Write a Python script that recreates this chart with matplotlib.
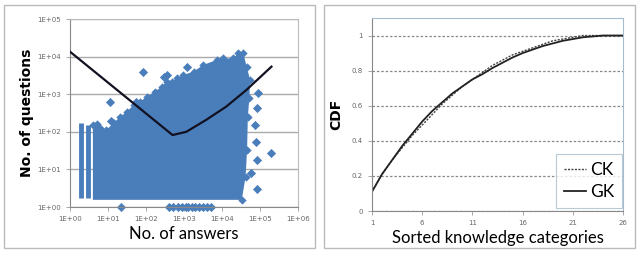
import math
import matplotlib
matplotlib.use('Agg')
import matplotlib.pyplot as plt
from matplotlib.patches import Rectangle
from matplotlib.ticker import FuncFormatter

plt.rcParams['font.family'] = ['DejaVu Sans']
narrow = ['Lato', 'DejaVu Sans']

# --- left panel: answers vs questions (log-log) ---
# outline of the dense cloud (answers, questions)
cloud_x = [4, 5, 6.2, 9, 14, 21, 31, 47, 69, 105, 174, 257, 347, 479, 646, 955, 1780, 3240,
           7240, 10700, 20000, 26900, 36300, 44700, 55000, 52500, 47900, 45700, 41700, 33100, 4]
cloud_y = [151, 158, 123, 112, 170, 251, 339, 513, 631, 851, 1175, 1585, 2138, 2138, 2630,
           3236, 3981, 6026, 8128, 8913, 8913, 12300, 12300, 5370, 2400, 794, 251, 32, 6.3,
           1.55, 1.55]
strip_x = [2, 3]
strip_top = [170, 150]
strip_bottom = [1.7, 1.7]
# outliers
out_x = [11, 12, 22, 85, 295, 347, 1230, 56, 93, 91000, 85000, 74000, 78000, 190000, 81000,
         58000, 81000, 400, 500, 700, 900, 1100, 1300, 1600, 2000, 2500, 3200, 4000, 5000]
out_y = [630, 195, 1, 3800, 2950, 3240, 5370, 631, 631, 1100, 420, 150, 55, 27, 18, 8, 3,
         1, 1, 1, 1, 1, 1, 1, 1, 1, 1, 1, 1]
# fitted trend
fit_x = [1, 500, 1150, 3900, 13000, 44000, 200000]
fit_y = [13500, 82, 100, 210, 470, 1300, 5400]

# --- right panel: CDF of sorted knowledge categories ---
cats = list(range(1, 27))
ck = [0.11, 0.21, 0.29, 0.36, 0.43, 0.49, 0.55, 0.61, 0.66, 0.71, 0.75, 0.79, 0.83, 0.86,
      0.89, 0.91, 0.93, 0.95, 0.97, 0.98, 0.99, 1.0, 1.0, 1.0, 1.0, 1.0]
gk = [0.11, 0.21, 0.29, 0.37, 0.44, 0.51, 0.57, 0.62, 0.67, 0.71, 0.75, 0.78, 0.815, 0.845,
      0.875, 0.90, 0.92, 0.94, 0.955, 0.97, 0.98, 0.99, 0.995, 1.0, 1.0, 1.0]

blue = '#4a7ebb'
tick_color = '#666666'

fig = plt.figure(figsize=(6.38, 2.6), dpi=100)
fig.patches.append(Rectangle((4 / 638, 12 / 260), 311 / 638, 243 / 260, transform=fig.transFigure,
                             fill=False, edgecolor='#bbbbbb', lw=1))
fig.patches.append(Rectangle((324 / 638, 12 / 260), 311 / 638, 243 / 260, transform=fig.transFigure,
                             fill=False, edgecolor='#bbbbbb', lw=1))

ax1 = fig.add_axes([70 / 638, 53 / 260, 228 / 638, 188 / 260])
ax1.set_xscale('log')
ax1.set_yscale('log')
ax1.set_xlim(1, 1e6)
ax1.set_ylim(1, 1e5)
ax1.grid(axis='y', color='#aaaaaa', lw=1)
ax1.set_axisbelow(True)
ax1.fill(cloud_x, cloud_y, color=blue, lw=0, zorder=2)
ax1.vlines(strip_x, strip_bottom, strip_top, color=blue, lw=3.5, zorder=2)
ax1.scatter(cloud_x[:-1], cloud_y[:-1], marker='D', s=18, color=blue, lw=0, zorder=2)
ax1.scatter(out_x, out_y, marker='D', s=22, color=blue, lw=0, zorder=2, clip_on=False)
ax1.plot(fit_x, fit_y, color='#111122', lw=1.6, zorder=3)

fmt = FuncFormatter(lambda v, p: '1E+%02d' % round(math.log10(v)))
ax1.xaxis.set_major_formatter(fmt)
ax1.yaxis.set_major_formatter(fmt)
ax1.minorticks_off()
ax1.tick_params(labelsize=5, colors=tick_color, length=3, width=0.6, color='#999999')
for s in ax1.spines.values():
    s.set_color('#bbbbbb')
    s.set_linewidth(0.8)
ax1.spines['left'].set_color('#888888')
ax1.spines['bottom'].set_color('#888888')
ax1.set_xlabel('No. of answers', fontsize=12, labelpad=3, family=narrow)
ax1.set_ylabel('No. of questions', fontsize=10, fontweight='bold', labelpad=2)

ax2 = fig.add_axes([372 / 638, 49 / 260, 251 / 638, 193 / 260])
ax2.set_xlim(1, 26)
ax2.set_ylim(0, 1.1)
ax2.set_xticks([1, 6, 11, 16, 21, 26])
ax2.set_yticks([0, 0.2, 0.4, 0.6, 0.8, 1.0])
ax2.set_yticklabels(['0', '0.2', '0.4', '0.6', '0.8', '1'])
ax2.grid(axis='y', color='#888888', lw=0.9, ls=(0, (2, 1.5)))
ax2.set_axisbelow(True)
ax2.plot(cats, ck, color='#444444', lw=1, ls=(0, (1.5, 1)), label='CK')
ax2.plot(cats, gk, color='#222222', lw=1.3, label='GK')
ax2.tick_params(labelsize=5, colors=tick_color, length=3, width=0.6, color='#999999')
for s in ax2.spines.values():
    s.set_color('#a8bccc')
    s.set_linewidth(0.8)
ax2.spines['left'].set_color('#888888')
ax2.spines['bottom'].set_color('#888888')
ax2.set_xlabel('Sorted knowledge categories', fontsize=12, labelpad=3, family=narrow)
ax2.set_ylabel('CDF', fontsize=10, fontweight='bold', labelpad=6)
leg = ax2.legend(loc='lower right', frameon=True, fancybox=False,
                 handlelength=1.3, handletextpad=0.2, borderpad=0.45, labelspacing=0.35,
                 prop={'family': narrow, 'size': 12.5},
                 bbox_to_anchor=(0.995, 0.015), borderaxespad=0)
leg.get_frame().set_edgecolor('#a8bccc')
leg.get_frame().set_linewidth(0.8)

fig.savefig('out.png', dpi=100)
